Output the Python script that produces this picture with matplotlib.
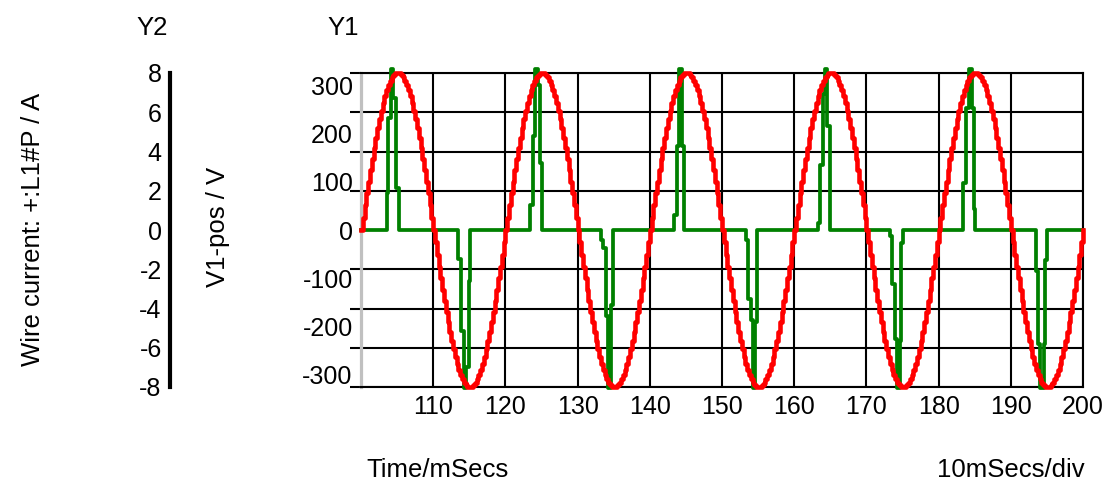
import matplotlib.pyplot as plt
import numpy as np

plt.rcParams['font.family'] = ['Liberation Sans', 'DejaVu Sans']
plt.rcParams['axes.unicode_minus'] = False

# V1-pos, one 20 ms mains cycle read at 0.25 ms steps (V), repeats every cycle
v_quarter = [0, 25, 51, 76, 100, 124, 148, 170, 191, 211,
             230, 247, 263, 277, 290, 300, 309, 316, 321, 324]
v_cycle = (v_quarter + [325] + v_quarter[:0:-1]
           + [-v for v in v_quarter] + [-325] + [-v for v in v_quarter[:0:-1]])
n_cycles = 5
t_start = 100.0
v_step = 0.25

# wire current +:L1#P, step points (ms, A)
cur_t = [100.0,
         103.56, 103.8, 104.1, 104.5, 104.8, 105.2,
         113.5, 113.8, 114.2, 114.6, 114.95, 115.1,
         123.4, 123.8, 124.1, 124.55, 124.8, 125.0,
         133.3, 133.55, 133.9, 134.25, 134.6, 134.9,
         143.35, 143.7, 144.1, 144.4, 144.7,
         153.3, 153.6, 153.95, 154.25, 154.6, 154.8,
         163.25, 163.6, 163.95, 164.3, 164.6, 164.9,
         173.3, 173.6, 173.95, 174.3, 174.6, 174.8, 175.1,
         183.4, 183.8, 184.25, 184.6, 184.9, 185.1,
         193.5, 193.8, 194.1, 194.6, 194.8, 194.95,
         200.0]
cur_i = [0,
         1.9, 5.7, 8.2, 6.75, 2.16, 0,
         -1.5, -5.15, -8.05, -7.0, -2.6, 0,
         1.25, 4.8, 8.2, 7.4, 3.4, 0,
         -0.5, -0.9, -4.4, -8.05, -3.8, 0,
         0.75, 4.3, 8.2, 4.3, 0,
         -0.5, -3.5, -4.6, -8.05, -4.7, 0,
         0.35, 3.3, 6.95, 8.2, 5.3, 0,
         -0.3, -2.76, -5.57, -8.05, -5.66, -0.65, 0,
         2.4, 6.2, 8.2, 6.2, 1.07, 0,
         -2.07, -5.8, -8.05, -5.8, -1.55, 0,
         0]

y1_ticks = [-300, -200, -100, 0, 100, 200, 300]
y2_ticks = [-8, -6, -4, -2, 0, 2, 4, 6, 8]
x_ticks = [110, 120, 130, 140, 150, 160, 170, 180, 190, 200]
v_full = 325.0
i_full = 8.0

volts = list(np.tile(v_cycle, n_cycles)) + [v_cycle[0]]
t_v = t_start + v_step * np.arange(len(volts))

W, H = 1106, 482
fig = plt.figure(figsize=(W / 100, H / 100), dpi=100)
ax = fig.add_axes([361 / W, (H - 387) / H, 722 / W, 314 / H])

# current drawn in Y1 units so both traces sit in one axes
ax.plot(cur_t, np.array(cur_i) * v_full / i_full, drawstyle='steps-post',
        color='#008000', lw=2.7, zorder=3, clip_on=False)
ax.plot(t_v, volts, drawstyle='steps-post', color='#ff0000', lw=3.3,
        zorder=4, clip_on=False)

fs_tick = 18
ax.set_xlim(100, 200)
ax.set_ylim(-v_full, v_full)
ax.set_xticks(x_ticks)
ax.set_yticks(y1_ticks)
ax.set_yticks([v * v_full / i_full for v in y2_ticks], minor=True)
ax.tick_params(axis='x', length=0, pad=6, labelsize=fs_tick)
ax.tick_params(axis='y', which='major', length=0, pad=6, labelsize=fs_tick)
ax.tick_params(axis='y', which='minor', length=8, width=1.5, color='black')
ax.grid(axis='x', which='major', color='black', lw=1.5)
ax.grid(axis='y', which='minor', color='black', lw=1.5)
ax.set_axisbelow(True)
for s in ['top', 'bottom', 'right']:
    ax.spines[s].set_color('black')
    ax.spines[s].set_linewidth(1.5)
ax.spines['left'].set_color('#c0c0c0')
ax.spines['left'].set_linewidth(2.3)

ax2 = ax.twinx()
ax2.set_ylim(-i_full, i_full)
ax2.set_yticks(y2_ticks)
ax2.yaxis.tick_left()
ax2.tick_params(axis='y', length=0, pad=6, labelsize=fs_tick)
for s in ['top', 'bottom', 'right']:
    ax2.spines[s].set_visible(False)
ax2.spines['left'].set_position(('axes', (170 - 361) / 722))
ax2.spines['left'].set_linewidth(3)
ax2.spines['left'].set_capstyle('projecting')

fs = 18.5
fig.text(152 / W, 1 - 28 / H, 'Y2', fontsize=fs, ha='center', va='center')
fig.text(343 / W, 1 - 28 / H, 'Y1', fontsize=fs, ha='center', va='center')
fig.text(33 / W, 1 - 229 / H, 'Wire current: +:L1#P / A', fontsize=fs,
         rotation=90, ha='center', va='center')
fig.text(218 / W, 1 - 227 / H, 'V1-pos / V', fontsize=fs, rotation=90,
         ha='center', va='center')
fig.text(366 / W, 1 - 470 / H, 'Time/mSecs', fontsize=fs, ha='left', va='center')
fig.text(937 / W, 1 - 470 / H, '10mSecs/div', fontsize=fs, ha='left', va='center')

fig.savefig('out.png', dpi=100)
